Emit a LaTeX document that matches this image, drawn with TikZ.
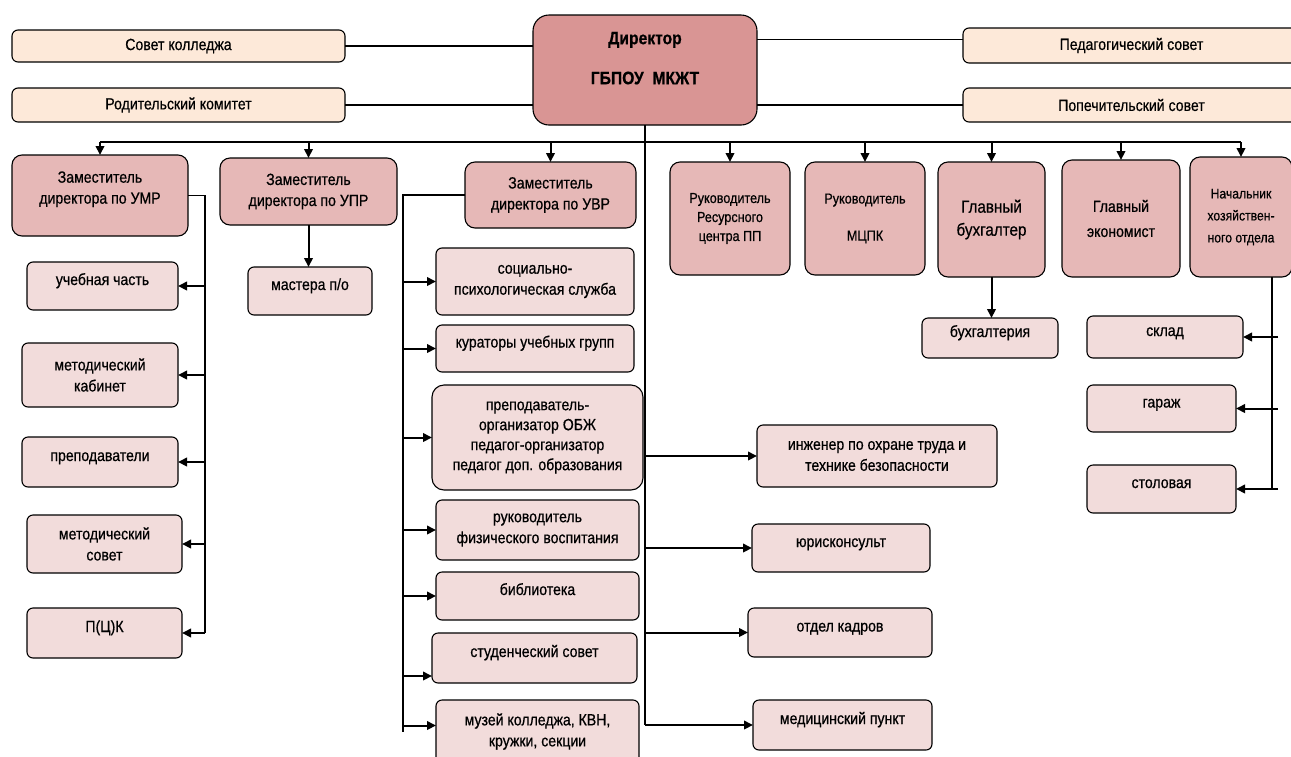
\documentclass[tikz,border=0pt]{standalone}
\usepackage{fontspec}
\setmainfont{Liberation Sans}[FakeStretch=0.87,FakeBold=0.6]
\usetikzlibrary{arrows.meta,calc}
\definecolor{peach}{HTML}{FDE9D9}
\definecolor{dirpink}{HTML}{D99594}
\definecolor{midpink}{HTML}{E6B8B7}
\definecolor{lightpink}{HTML}{F2DCDB}
\newcommand\mybox[7]{\node[#1, minimum width={(#5-#3)*1pt}, minimum height={(#6-#4)*1pt}] (#2) at ({(#3+#5)/2},{(#4+#6)/2}) {#7};}
\newcommand\padlow[1]{\\[#1]\mbox{}}
\tikzset{
  box/.style={draw=black, line width=1.1pt, rounded corners=6pt, align=center, inner sep=0pt, outer sep=0pt, font=\fontsize{16.2}{21}\selectfont},
  council/.style={box, fill=peach},
  head/.style={box, fill=midpink, rounded corners=10pt},
  unit/.style={box, fill=lightpink},
  raised/.style={text height=12pt, text depth=14pt},
  link/.style={line width=1.2pt},
  arr/.style={line width=2pt, -{Triangle[length=9pt,width=8.5pt]}},
}
\begin{document}
\begin{tikzpicture}[x=1pt,y=-1pt]
\useasboundingbox (0,0) rectangle (1291,756);
% councils
\mybox{council}{sovet}{12}{30}{345}{62}{Совет колледжа}
\mybox{council}{rod}{12}{88}{345}{122}{Родительский комитет}
\mybox{council}{ped}{963}{28}{1300}{63}{Педагогический совет}
\mybox{council}{pop}{963}{88}{1300}{122}{Попечительский совет}
% director
\mybox{box, fill=dirpink, rounded corners=16pt, font=\fontsize{18}{22}\selectfont\bfseries}{dir}{533}{15}{757}{125}{Директор\\[18pt]ГБПОУ\ \ МКЖТ\padlow{2pt}}
% heads
\mybox{head}{umr}{12}{155}{188}{236}{Заместитель\\директора по УМР\padlow{-5pt}}
\mybox{head}{upr}{220}{158}{397}{225}{Заместитель\\директора по УПР}
\mybox{head}{uvr}{465}{162}{636}{228}{Заместитель\\директора по УВР}
\mybox{head, font=\fontsize{14.5}{19}\selectfont}{rrc}{670}{162}{790}{275}{Руководитель\\Ресурсного\\центра ПП}
\mybox{head, font=\fontsize{14.5}{19}\selectfont}{mcpk}{805}{162}{925}{275}{Руководитель\\[18pt]МЦПК}
\mybox{head, font=\fontsize{17.5}{23}\selectfont}{gb}{938}{162}{1045}{277}{Главный\\бухгалтер}
\mybox{head}{ge}{1062}{160}{1180}{277}{Главный\\[4pt]экономист}
\mybox{head, font=\fontsize{14}{22}\selectfont}{nach}{1190}{157}{1292}{277}{Начальник\\хозяйствен-\\ного отдела}
% UMR units
\mybox{unit, raised}{uch}{27}{262}{178}{310}{учебная часть}
\mybox{unit}{mk}{22}{343}{178}{407}{методический\\кабинет}
\mybox{unit, raised}{prep}{22}{437}{178}{487}{преподаватели}
\mybox{unit}{ms}{27}{515}{182}{573}{методический\\совет}
\mybox{unit, raised}{pck}{27}{608}{182}{658}{П(Ц)К}
% UPR
\mybox{unit, raised}{master}{248}{267}{372}{315}{мастера п/о}
% UVR units
\mybox{unit}{soc}{436}{248}{634}{315}{социально-\\психологическая служба}
\mybox{unit, raised}{kur}{436}{325}{634}{372}{кураторы учебных групп}
\mybox{unit, font=\fontsize{16.2}{20}\selectfont, rounded corners=12pt}{prepo}{432}{385}{643}{490}{преподаватель-\\организатор ОБЖ\\педагог-организатор\\педагог доп. образования}
\mybox{unit}{fiz}{436}{500}{639}{560}{руководитель\\физического воспитания}
\mybox{unit, raised}{bib}{436}{572}{639}{620}{библиотека}
\mybox{unit, raised}{stud}{432}{633}{637}{683}{студенческий совет}
\mybox{unit}{muz}{436}{700}{639}{763}{музей колледжа, КВН,\\кружки, секции}
% right units
\mybox{unit}{ing}{757}{425}{997}{487}{инженер по охране труда и\\технике безопасности}
\mybox{unit, raised}{jur}{752}{524}{930}{572}{юрисконсульт}
\mybox{unit, raised}{kadr}{748}{608}{932}{657}{отдел кадров}
\mybox{unit, raised}{med}{753}{700}{932}{750}{медицинский пункт}
\mybox{unit, raised}{buh}{922}{318}{1058}{358}{бухгалтерия}
\mybox{unit, raised}{sklad}{1087}{316}{1243}{358}{склад}
\mybox{unit, raised}{garaj}{1087}{385}{1236}{432}{гараж}
\mybox{unit, raised}{stol}{1087}{465}{1236}{513}{столовая}
% helper coordinates
\coordinate (bus) at (0,142);
\coordinate (umrX) at (205,0);
\coordinate (uvrX) at (403,0);
\coordinate (nachX) at (1272,0);
% council links
\draw[link] (sovet.east) -- (sovet.east -| dir.west);
\draw[link] (rod.east) -- (rod.east -| dir.west);
\draw[link] ($(ped.west)+(0,-6)$) -- ($(ped.west -| dir.east)+(0,-6)$);
\draw[link] (pop.west) -- (pop.west -| dir.east);
% bus and trunk
\draw[line width=1.3pt] (umr.north |- bus) -- (nach.north |- bus);
\draw[line width=1.3pt] (dir.south) -- (dir.south |- med.west);
\foreach \n in {umr,upr,uvr,rrc,mcpk,gb,ge,nach}
  \draw[arr] (\n.north |- bus) -- (\n.north);
% UMR branch
\draw[link] (umr.east) -- (umr.east -| umrX) -- (umrX |- pck.east);
\foreach \n in {uch,mk,prep,ms,pck}
  \draw[arr] (\n.east -| umrX) -- (\n.east);
% UPR
\draw[arr] (upr.south) -- (upr.south |- master.north);
% UVR branch
\draw[link] (uvr.west) -- (uvr.west -| uvrX) -- (uvrX |- muz.west);
\foreach \n in {soc,kur,prepo,fiz,bib}
  \draw[arr] (\n.west -| uvrX) -- (\n.west);
\draw[arr] ($(stud.west -| uvrX)+(0,18)$) -- ($(stud.west)+(0,18)$);
\draw[arr] ($(muz.west -| uvrX)+(0,-6)$) -- ($(muz.west)+(0,-6)$);
% right of trunk
\foreach \n in {ing,jur,kadr,med}
  \draw[arr] (\n.west -| dir.south) -- (\n.west);
% accounting
\draw[arr] (gb.south) -- (gb.south |- buh.north);
% household
\draw[link] (nachX |- nach.south) -- (nachX |- stol.east);
\foreach \n in {sklad,garaj,stol}
  \draw[arr] ($(\n.east -| nachX)+(6,0)$) -- (\n.east);
\end{tikzpicture}
\end{document}
